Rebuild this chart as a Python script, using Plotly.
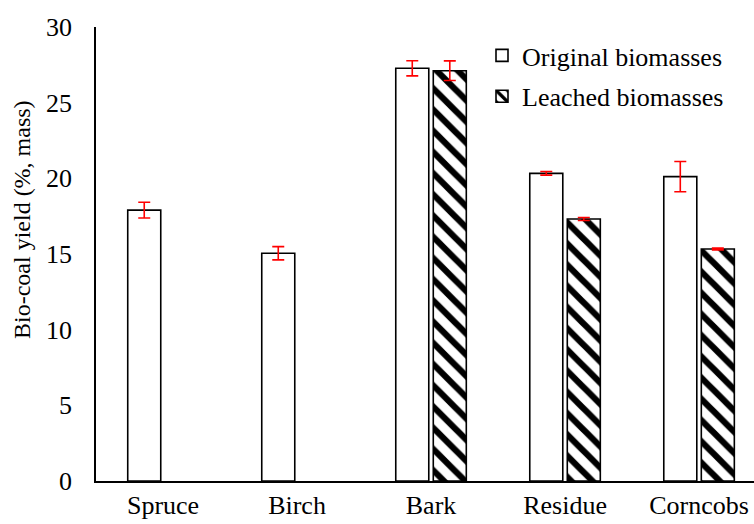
import plotly.graph_objects as go

# Bio-coal yield per feedstock, original vs. leached biomass
categories = ["Spruce", "Birch", "Bark", "Residue", "Corncobs"]
original_yield = [17.9, 15.05, 27.27, 20.33, 20.11]
original_err = [0.52, 0.44, 0.5, 0.12, 1.0]
leached_yield = [None, None, 27.11, 17.31, 15.33]
leached_err = [None, None, 0.65, 0.1, 0.06]
y_title = "Bio-coal yield (%, mass)"

font_family = "Liberation Serif, Times New Roman, serif"

fig = go.Figure()

fig.add_trace(go.Bar(
    x=categories, y=original_yield, name="Original biomasses",
    legendgroup="orig",
    marker=dict(color="white", line=dict(color="black", width=1.6)),
    error_y=dict(type="data", array=original_err, color="#ff0000",
                 thickness=1.6, width=6),
))

fig.add_trace(go.Bar(
    x=categories, y=leached_yield, name="Leached biomasses",
    legendgroup="leach",
    marker=dict(color="white", line=dict(color="black", width=1.6),
                pattern=dict(shape="\\", fgcolor="black", bgcolor="white",
                             fgopacity=1, size=15, solidity=0.42)),
    error_y=dict(type="data", array=leached_err, color="#ff0000",
                 thickness=1.6, width=6),
))

# plot area spans x 96..754 px and y 27..481 px of the page
plot_l, plot_w = 96, 658
plot_b, plot_h = 481, 454

fig.update_layout(
    width=754, height=524,
    margin=dict(l=96, r=0, t=27, b=43),
    paper_bgcolor="white", plot_bgcolor="white",
    barmode="group", bargap=0.44, bargroupgap=0.12,
    font=dict(family=font_family, size=26, color="black"),
    showlegend=True,
    legend=dict(x=(482 - plot_l) / plot_w, y=(plot_b - 32) / plot_h,
                xanchor="left", yanchor="top",
                bgcolor="rgba(0,0,0,0)", traceorder="grouped",
                tracegroupgap=4, itemwidth=30,
                font=dict(family=font_family, size=26, color="black")),
    annotations=[dict(
        text=y_title, textangle=-90, showarrow=False,
        xref="paper", yref="paper",
        x=(22 - plot_l) / plot_w, y=(plot_b - 220) / plot_h,
        xanchor="center", yanchor="middle",
        font=dict(family=font_family, size=24, color="black"),
    )],
)

fig.update_xaxes(
    range=[-0.5, 4.41], showline=True, linecolor="black", linewidth=1.5,
    ticks="", showgrid=False, zeroline=False,
    tickfont=dict(family=font_family, size=26, color="black"),
)
fig.update_yaxes(
    range=[0, 30], dtick=5, showline=True, linecolor="black", linewidth=1.5,
    ticks="", showgrid=False, zeroline=False, ticklabelstandoff=17,
    tickfont=dict(family=font_family, size=26, color="black"),
)

fig.write_html("out.html")
